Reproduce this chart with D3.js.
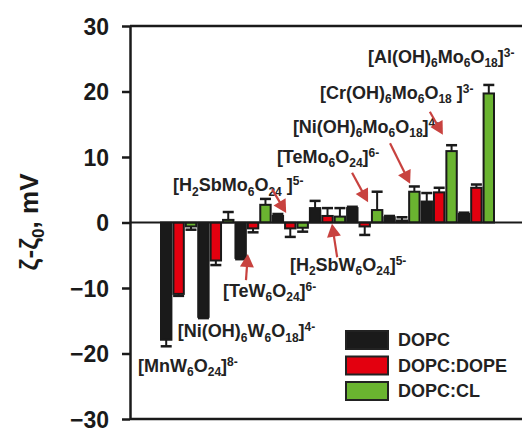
<!DOCTYPE html>
<html><head><meta charset="utf-8">
<script src="https://cdn.jsdelivr.net/npm/d3@7"></script>
<style>
body{margin:0;background:#fff;}
svg{display:block;font-family:"Liberation Sans",Arial,sans-serif;}
</style>
</head><body>
<svg id="c" width="522" height="428"></svg>
<script>
// ---- data ----
const anions = ["MnW6O24","Ni(OH)6W6O18","TeW6O24","H2SbMo6O24","H2SbW6O24","TeMo6O24","Ni(OH)6Mo6O18","Cr(OH)6Mo6O18","Al(OH)6Mo6O18"];
const series = ["DOPC","DOPC:DOPE","DOPC:CL"];
const seriesColors = ["#1a1a1a","#e3000f","#6ab430"];
const dopc     = [-17.9,-14.4,-5.4, 1.0, 2.2, 2.2, 0.8, 3.2, 1.3];
const dopcErr  = [  1.0,  0.2, 0.2, 0.3, 1.1, 0.2, 0.2, 1.3, 0.2];
const dope     = [-10.9, -5.8,-0.9,-0.9, 1.0,-0.6, 0.3, 4.6, 5.3];
const dopeErr  = [  0.3,  0.7, 0.6, 1.3, 1.2, 1.3, 0.5, 0.7, 0.5];
const cl       = [ -0.6,  0.4, 2.7,-0.8, 0.9, 1.9, 4.7,10.9,19.7];
const clErr    = [  0.5,  1.2, 0.9, 0.6, 1.3, 2.8, 0.8, 0.9, 1.3];
const yTicks = [-30,-20,-10,0,10,20,30];

// annotations: text markup, anchor in (group index, value) data coordinates
const labelTexts = ["[MnW_{6}O_{24}]^{8-}","[Ni(OH)_{6}W_{6}O_{18}]^{4-}","[TeW_{6}O_{24}]^{6-}","[H_{2}SbMo_{6}O_{24} ]^{5-}",
                    "[H_{2}SbW_{6}O_{24}]^{5-}","[TeMo_{6}O_{24}]^{6-}","[Ni(OH)_{6}Mo_{6}O_{18}]^{4-}","[Cr(OH)_{6}Mo_{6}O_{18} ]^{3-}","[Al(OH)_{6}Mo_{6}O_{18}]^{3-}"];
const labelIdx = [-0.59, 0.48, 1.69, 0.35, 3.49, 3.14, 3.57, 4.30, 5.59];
const labelVal = [-22.8,-17.5,-11.3, 4.8, -7.4, 9.1, 13.7, 18.9, 24.4];
const arrowTailIdx = [2.31, 3.01, 4.76, 5.16, 6.18, 7.25];
const arrowTailVal = [-8.8, 5.1, -5.3, 7.6, 12.1, 16.9];
const arrowTipIdx  = [2.36, 3.39, 4.62, 5.59, 6.72, 7.60];
const arrowTipVal  = [-4.8, 1.45, -0.2, 3.1, 5.9, 13.4];

// ---- scales ----
const svg = d3.select("#c");
const y = d3.scaleLinear().domain([-30,30]).range([419,26]);
const x0 = d3.scaleBand().domain(anions).range([160,495]).paddingInner(0).paddingOuter(0);
const x1 = d3.scaleBand().domain(series).range([0,x0.bandwidth()]).padding(0);
const xi = d3.scaleLinear().domain([0,anions.length]).range([160,495]);

const values = [dopc,dope,cl], errs = [dopcErr,dopeErr,clErr];
const bars = [];
anions.forEach((a,i)=>series.forEach((s,j)=>bars.push({a,s,j,v:values[j][i],e:errs[j][i]})));

const ink = "#1a1a1a";
// frame lines
svg.append("line").attr("x1",130).attr("x2",524).attr("y1",y(30)).attr("y2",y(30)).attr("stroke",ink).attr("stroke-width",2.5);
svg.append("line").attr("x1",130).attr("x2",524).attr("y1",y(-30)).attr("y2",y(-30)).attr("stroke",ink).attr("stroke-width",2.5);

// error bars (one sided)
const eg = svg.append("g");
bars.forEach(b=>{
  const cx = x0(b.a)+x1(b.s)+x1.bandwidth()/2;
  const sgn = b.v>=0?1:-1;
  const yEnd = y(b.v+sgn*b.e);
  eg.append("line").attr("x1",cx).attr("x2",cx).attr("y1",y(b.v)).attr("y2",yEnd).attr("stroke",ink).attr("stroke-width",2);
  eg.append("line").attr("x1",cx-5.5).attr("x2",cx+5.5).attr("y1",yEnd).attr("y2",yEnd).attr("stroke",ink).attr("stroke-width",2.5);
});

// bars
svg.append("g").selectAll("rect").data(bars).join("rect")
  .attr("x",d=>x0(d.a)+x1(d.s)+1)
  .attr("width",x1.bandwidth()-2)
  .attr("y",d=>y(Math.max(0,d.v)))
  .attr("height",d=>Math.abs(y(d.v)-y(0)))
  .attr("fill",d=>seriesColors[d.j])
  .attr("stroke",ink).attr("stroke-width",2);

// zero line
svg.append("line").attr("x1",130).attr("x2",524).attr("y1",y(0)).attr("y2",y(0)).attr("stroke",ink).attr("stroke-width",2.2);

// y axis
const ax = svg.append("g").attr("transform","translate(130,0)")
  .call(d3.axisLeft(y).tickValues(yTicks).tickSize(8).tickSizeOuter(0).tickPadding(13));
ax.select(".domain").attr("stroke",ink).attr("stroke-width",2.5);
ax.selectAll(".tick line").attr("stroke",ink).attr("stroke-width",2.5);
ax.selectAll(".tick text").attr("fill",ink).attr("font-size",23).attr("font-weight","bold")
  .attr("font-family","'Liberation Sans',Arial,sans-serif").attr("dy","0.36em");

// y title
const yt = svg.append("text").attr("transform","translate(38,222) rotate(-90)")
  .attr("text-anchor","middle").attr("font-size",26).attr("font-weight","bold").attr("fill",ink);
yt.append("tspan").text("ζ-ζ");
yt.append("tspan").attr("font-size",17).attr("dy",6).text("0");
yt.append("tspan").attr("dy",-6).text(", mV");

// rich text helper
function rich(sel, str, size){
  const small = Math.round(size*0.66);
  const parts = str.split(/(_\{[^}]*\}|\^\{[^}]*\})/).filter(p=>p.length);
  let shift = 0;
  parts.forEach(p=>{
    let target=0, txt=p, fs=size;
    if(p.startsWith("_{")){target=4.5; txt=p.slice(2,-1); fs=small;}
    else if(p.startsWith("^{")){target=-6; txt=p.slice(2,-1); fs=small;}
    sel.append("tspan").attr("dy",target-shift).attr("font-size",fs).text(txt);
    shift=target;
  });
}
const lg = svg.append("g").attr("font-weight","bold").attr("fill","#222").style("white-space","pre");
labelTexts.forEach((t,i)=>{
  const tx = lg.append("text").attr("x",xi(labelIdx[i])).attr("y",y(labelVal[i])).attr("font-size",18);
  rich(tx,t,18);
});

// arrows
const arrowColor = "#c8423f";
const ag = svg.append("g");
arrowTailIdx.forEach((_,i)=>{
  const x1p = xi(arrowTailIdx[i]), y1p = y(arrowTailVal[i]);
  const x2p = xi(arrowTipIdx[i]), y2p = y(arrowTipVal[i]);
  const dx=x2p-x1p, dy=y2p-y1p, L=Math.hypot(dx,dy), ux=dx/L, uy=dy/L;
  const hl=13, hw=7;
  const bx=x2p-ux*hl, by=y2p-uy*hl;
  ag.append("line").attr("x1",x1p).attr("y1",y1p).attr("x2",bx+ux*1).attr("y2",by+uy*1).attr("stroke",arrowColor).attr("stroke-width",2.2);
  ag.append("path").attr("d",`M${x2p},${y2p}L${bx-uy*hw},${by+ux*hw}L${bx+uy*hw},${by-ux*hw}Z`).attr("fill",arrowColor);
});

// legend
const leg = svg.append("g");
series.forEach((s,i)=>{
  const yy = 331 + i*25.5;
  leg.append("rect").attr("x",346).attr("y",yy).attr("width",42).attr("height",18)
    .attr("fill",seriesColors[i]).attr("stroke","#222").attr("stroke-width",2);
  leg.append("text").attr("x",398).attr("y",yy+9).attr("dy","0.36em").attr("font-size",18)
    .attr("font-weight","bold").attr("fill","#222").text(s);
});
</script>
</body></html>
